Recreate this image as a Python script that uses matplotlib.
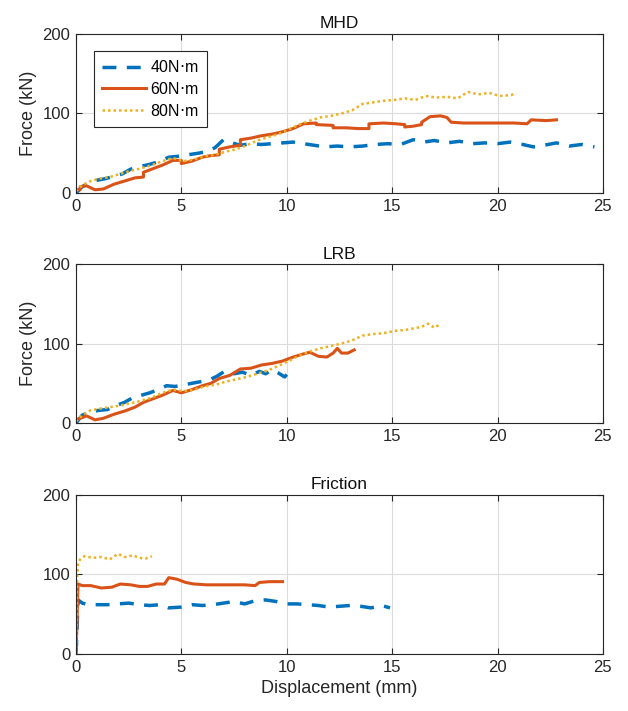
import matplotlib.pyplot as plt

plt.rcParams['font.family'] = ['Liberation Sans', 'DejaVu Sans']

C40 = '#0072BD'
C60 = '#D95319'
C80 = '#EDB120'

# MHD damper
mhd_40_x = [0, 0.3, 0.6, 1.0, 1.4, 1.8, 2.2, 2.6, 3.0, 3.5, 4.0, 4.4, 4.8, 5.3, 5.8, 6.2, 6.6, 7.0, 7.4, 7.8,
            8.3, 8.8, 9.3, 9.8, 10.3, 10.8, 11.3, 11.8, 12.4, 13.0, 13.6, 14.2, 14.8, 15.4, 16.0, 16.5, 17.0,
            17.6, 18.2, 18.8, 19.4, 20.0, 20.6, 21.2, 21.7, 22.2, 22.8, 23.4, 24.0, 24.6]
mhd_40_y = [0, 8, 12, 16, 18, 21, 24, 30, 33, 36, 40, 45, 46, 48, 50, 52, 57, 67, 63, 60,
            62, 61, 62, 63, 64, 62, 60, 58, 59, 58, 59, 61, 62, 61, 67, 64, 66, 63, 65, 62, 63, 62,
            64, 61, 58, 60, 63, 59, 61, 58]

mhd_60_x = [0, 0.2, 0.2, 0.5, 0.9, 1.3, 1.8, 2.3, 2.8, 3.2, 3.2, 3.6, 4.1, 4.6, 5.0, 5.0, 5.5, 6.0, 6.4,
            6.8, 6.8, 7.3, 7.8, 7.8, 8.3, 8.8, 9.3, 9.8, 10.3, 10.8, 11.4, 11.4, 12.2, 12.2, 12.8, 13.4,
            13.9, 13.9, 14.6, 15.2, 15.6, 15.6, 16.0, 16.4, 16.4, 16.8, 17.3, 17.6, 17.8, 18.4, 19.2,
            20.0, 20.8, 21.4, 21.6, 22.3, 22.8]
mhd_60_y = [4, 4, 8, 9, 4, 5, 11, 15, 19, 20, 26, 30, 35, 41, 41, 37, 40, 45, 47, 48, 55, 58, 60,
            67, 69, 72, 74, 77, 81, 87, 88, 86, 85, 82, 82, 81, 81, 87, 88, 87, 86, 83, 84, 86, 89,
            96, 97, 95, 89, 88, 88, 88, 88, 87, 92, 91, 92]

mhd_80_x = [0, 0.3, 0.7, 1.1, 1.6, 2.1, 2.6, 3.1, 3.6, 4.1, 4.6, 5.1, 5.6, 6.1, 6.6, 7.1, 7.6, 8.1, 8.6,
            9.1, 9.6, 10.1, 10.6, 11.1, 11.6, 12.1, 12.6, 13.1, 13.6, 14.1, 14.6, 15.1, 15.6, 16.1, 16.6,
            17.1, 17.6, 18.1, 18.6, 19.1, 19.6, 20.1, 20.6, 20.9]
mhd_80_y = [2, 10, 15, 18, 20, 24, 28, 31, 35, 40, 44, 40, 42, 46, 48, 52, 55, 60, 66, 70, 74, 80,
            86, 91, 95, 97, 100, 104, 112, 114, 116, 117, 119, 117, 122, 120, 121, 119, 127, 124,
            126, 122, 123, 125]

# LRB
lrb_40_x = [0, 0.3, 0.7, 1.1, 1.5, 1.9, 2.3, 2.7, 3.1, 3.5, 3.9, 4.3, 4.7, 5.1, 5.5, 5.9, 6.3, 6.7,
            7.1, 7.5, 7.9, 8.3, 8.7, 9.0, 9.3, 9.6, 9.9, 10.0]
lrb_40_y = [0, 10, 14, 16, 17, 22, 26, 32, 35, 38, 42, 47, 46, 48, 50, 52, 54, 59, 66, 62, 64, 60,
            65, 62, 67, 63, 58, 61]

lrb_60_x = [0, 0.2, 0.5, 0.9, 1.3, 1.8, 2.3, 2.8, 3.2, 3.6, 4.1, 4.6, 5.0, 5.5, 6.0, 6.4, 6.8, 7.3,
            7.8, 8.3, 8.8, 9.3, 9.8, 10.3, 10.8, 11.1, 11.5, 11.9, 12.2, 12.4, 12.6, 12.9, 13.2]
lrb_60_y = [4, 6, 9, 4, 6, 11, 15, 20, 26, 30, 35, 41, 38, 42, 47, 50, 56, 60, 68, 69, 73, 75, 78,
            83, 87, 89, 84, 83, 88, 94, 88, 88, 92]

lrb_80_x = [0, 0.3, 0.7, 1.1, 1.6, 2.1, 2.6, 3.1, 3.6, 4.1, 4.6, 5.1, 5.6, 6.1, 6.6, 7.1, 7.6, 8.1,
            8.6, 9.1, 9.6, 10.1, 10.6, 11.1, 11.6, 12.1, 12.6, 13.1, 13.6, 14.1, 14.6, 15.1, 15.6,
            16.0, 16.4, 16.7, 17.0, 17.2]
lrb_80_y = [2, 10, 16, 18, 20, 22, 25, 28, 32, 38, 42, 40, 42, 46, 48, 52, 55, 58, 62, 66, 72, 78,
            85, 90, 94, 97, 100, 104, 110, 112, 113, 116, 117, 119, 121, 125, 120, 123]

# Friction damper
fr_40_x = [0, 0.05, 0.08, 0.1, 0.3, 0.6, 1.0, 1.5, 2.0, 2.5, 3.0, 3.5, 4.0, 4.4, 5.0, 5.5, 6.0,
           6.5, 7.0, 7.5, 8.0, 8.5, 9.0, 9.5, 10.0, 10.5, 11.0, 11.5, 12.0, 12.5, 13.0, 13.5, 14.0,
           14.5, 14.9]
fr_40_y = [0, 30, 55, 68, 64, 62, 62, 62, 63, 64, 62, 61, 62, 58, 59, 62, 61, 62, 64, 66, 63, 67,
           68, 66, 63, 63, 62, 61, 59, 60, 61, 60, 58, 61, 58]

fr_60_x = [0, 0.05, 0.08, 0.1, 0.3, 0.7, 1.2, 1.7, 2.1, 2.6, 3.0, 3.4, 3.8, 4.2, 4.4, 4.8, 5.2,
           5.6, 6.2, 6.8, 7.4, 8.0, 8.5, 8.7, 9.2, 9.8]
fr_60_y = [0, 40, 75, 88, 86, 86, 83, 84, 88, 87, 85, 85, 88, 88, 96, 94, 90, 88, 87, 87, 87, 87,
           86, 90, 91, 91]

fr_80_x = [0, 0.03, 0.06, 0.1, 0.2, 0.4, 0.8, 1.2, 1.6, 2.0, 2.3, 2.7, 3.0, 3.3, 3.6]
fr_80_y = [0, 50, 100, 115, 119, 123, 121, 122, 119, 126, 122, 124, 121, 120, 123]

panels = [
    ('MHD', 'Froce (kN)', (mhd_40_x, mhd_40_y), (mhd_60_x, mhd_60_y), (mhd_80_x, mhd_80_y)),
    ('LRB', 'Force (kN)', (lrb_40_x, lrb_40_y), (lrb_60_x, lrb_60_y), (lrb_80_x, lrb_80_y)),
    ('Friction', None, (fr_40_x, fr_40_y), (fr_60_x, fr_60_y), (fr_80_x, fr_80_y)),
]
bottoms = [0.7286, 0.405, 0.0802]

fig = plt.figure(figsize=(6.28, 7.11), dpi=100)

for (title, ylab, s40, s60, s80), b in zip(panels, bottoms):
    ax = fig.add_axes([0.1210, b, 0.839, 0.2236])
    ax.plot(*s40, color=C40, lw=2.5, ls=(0, (4, 3)), label='40N$\\cdot$m')
    ax.plot(*s60, color=C60, lw=2.2, ls='-', label='60N$\\cdot$m')
    ax.plot(*s80, color=C80, lw=1.8, ls=(0, (1, 1.2)), label='80N$\\cdot$m')
    ax.set_xlim(0, 25)
    ax.set_ylim(0, 200)
    ax.set_xticks([0, 5, 10, 15, 20, 25])
    ax.set_yticks([0, 100, 200])
    ax.grid(True, color='#dcdcdc', lw=0.8)
    ax.set_axisbelow(True)
    ax.tick_params(direction='in', top=True, right=True, labelsize=12, length=4, color='#262626',
                   labelcolor='#262626', pad=4)
    for sp in ax.spines.values():
        sp.set_color('#262626')
        sp.set_linewidth(0.8)
    ax.set_title(title, fontsize=12.5, color='#111111', pad=4)
    if ylab:
        ax.set_ylabel(ylab, fontsize=13, color='#262626', labelpad=4)
    if title == 'MHD':
        leg = ax.legend(loc='upper left', bbox_to_anchor=(0.035, 0.89), fontsize=11.5, fancybox=False,
                        edgecolor='#262626', framealpha=1, handlelength=2.7, borderpad=0.5,
                        labelspacing=0.35, handletextpad=0.3, borderaxespad=0)
        leg.get_frame().set_linewidth(0.8)
    if title == 'Friction':
        ax.set_xlabel('Displacement (mm)', fontsize=13, color='#262626')

fig.savefig('out.png', dpi=100)
